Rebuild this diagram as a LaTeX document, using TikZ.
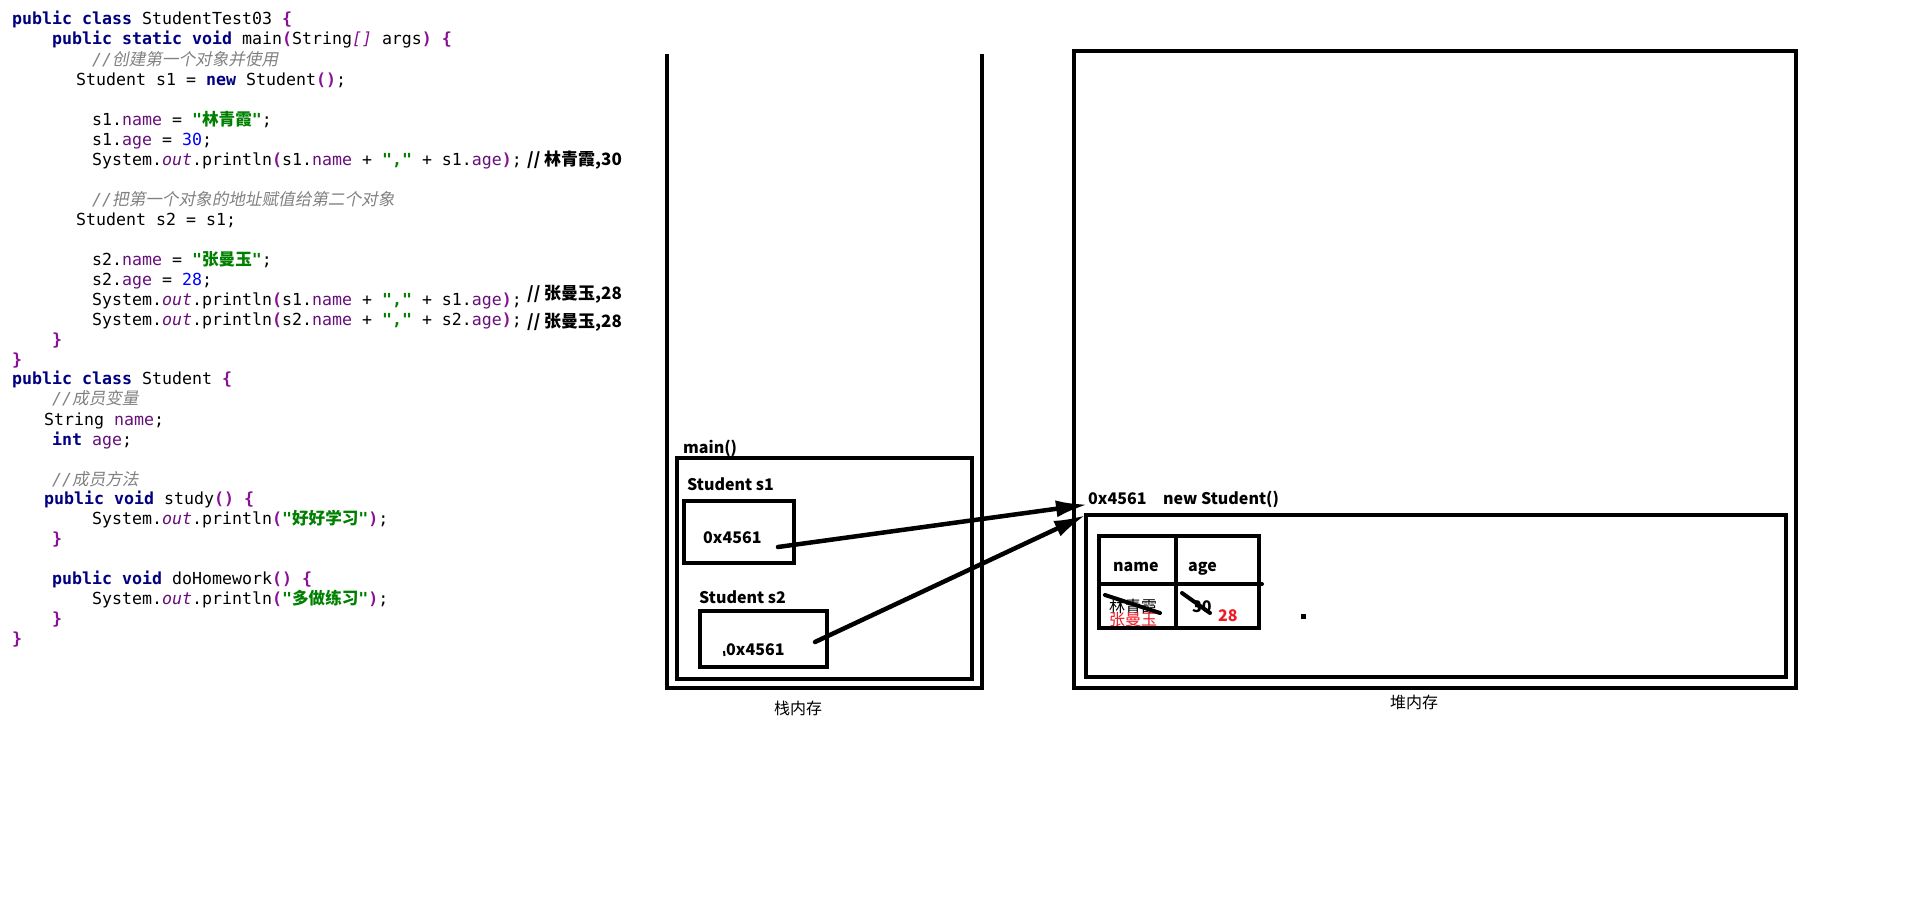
\documentclass[tikz,border=0pt]{standalone}
\usepackage{fontspec}
\usetikzlibrary{arrows.meta}
\setmainfont{Noto Sans CJK SC}
\newfontfamily\codefont{DejaVu Sans Mono}
\newfontfamily\cjk[AutoFakeSlant=0.2]{Noto Sans CJK SC}
\definecolor{kwcol}{HTML}{000080}
\definecolor{brkcol}{HTML}{871094}
\definecolor{fldcol}{HTML}{660E7A}
\definecolor{strcol}{HTML}{008000}
\definecolor{numcol}{HTML}{0000FF}
\definecolor{cmtcol}{HTML}{808080}
\definecolor{paintred}{HTML}{ED1C24}
\newcommand{\kw}[1]{{\color{kwcol}\bfseries #1}}
\newcommand{\brk}[1]{{\color{brkcol}\bfseries #1}}
\newcommand{\brki}[1]{{\color{brkcol}\itshape #1}}
\newcommand{\fld}[1]{{\color{fldcol}#1}}
\newcommand{\sfld}[1]{{\color{fldcol}\itshape #1}}
\newcommand{\strg}[1]{{\color{strcol}\bfseries #1}}
\newcommand{\numc}[1]{{\color{numcol}#1}}
\newcommand{\cmt}[1]{{\color{cmtcol}\itshape #1}}
\newcommand{\zh}[1]{{\cjk #1}}
\begin{document}
\begin{tikzpicture}[x=1bp,y=-1bp,line join=miter,
  code/.style={anchor=base west,inner sep=0pt,font=\codefont\fontsize{16.6bp}{20bp}\selectfont},
  note/.style={anchor=base west,inner sep=0pt,font=\fontsize{17bp}{20bp}\selectfont\bfseries},
  lbl/.style={anchor=base west,inner sep=0pt,font=\fontsize{16bp}{20bp}\selectfont\bfseries},
  memlbl/.style={anchor=base,inner sep=0pt,font=\fontsize{16bp}{20bp}\selectfont},
  box/.style={draw,line width=4bp,outer sep=0pt,inner sep=0pt},
  ref/.style={-{Latex[length=32bp,width=17bp]},line width=4.5bp,line cap=round},
  strike/.style={line width=4bp,line cap=round}]
  \useasboundingbox (0,0) rectangle (1914,916);
%%
  % Code: class StudentTest03
  \node[code] (c1) at (12,24) {\kw{public class} StudentTest03 \brk{\{}};
  \node[code] (c2) at (52,44) {\kw{public static void} main\brk{(}String\brki{[]} args\brk{)} \brk{\{}};
  \node[code] (c3) at (92,65) {\cmt{//\zh{创建第一个对象并使用}}};
  \node[code] (c4) at (76,85) {Student s1 = \kw{new} Student\brk{()};};
  \node[code] (c6) at (92,125) {s1.\fld{name} = \strg{"\zh{林青霞}"};};
  \node[code] (c7) at (92,145) {s1.\fld{age} = \numc{30};};
  \node[code] (c8) at (92,165) {System.\sfld{out}.println\brk{(}s1.\fld{name} + \strg{","} + s1.\fld{age}\brk{)};};
  \node[code] (c10) at (92,205) {\cmt{//\zh{把第一个对象的地址赋值给第二个对象}}};
  \node[code] (c11) at (76,225) {Student s2 = s1;};
  \node[code] (c13) at (92,265) {s2.\fld{name} = \strg{"\zh{张曼玉}"};};
  \node[code] (c14) at (92,285) {s2.\fld{age} = \numc{28};};
  \node[code] (c15) at (92,305) {System.\sfld{out}.println\brk{(}s1.\fld{name} + \strg{","} + s1.\fld{age}\brk{)};};
  \node[code] (c16) at (92,325) {System.\sfld{out}.println\brk{(}s2.\fld{name} + \strg{","} + s2.\fld{age}\brk{)};};
  \node[code] (c17) at (52,345) {\brk{\}}};
  \node[code] (c18) at (12,365) {\brk{\}}};
  % Code: printed results
  \node[note] (out1) at (527,165) {// 林青霞,30};
  \node[note] (out2) at (527,299) {// 张曼玉,28};
  \node[note] (out3) at (527,327) {// 张曼玉,28};
  % Code: class Student
  \node[code] (c19) at (12,384) {\kw{public class} Student \brk{\{}};
  \node[code] (c20) at (52,404) {\cmt{//\zh{成员变量}}};
  \node[code] (c21) at (44,425) {String \fld{name};};
  \node[code] (c22) at (52,445) {\kw{int} \fld{age};};
  \node[code] (c24) at (52,485) {\cmt{//\zh{成员方法}}};
  \node[code] (c25) at (44,504) {\kw{public void} study\brk{()} \brk{\{}};
  \node[code] (c26) at (92,524) {System.\sfld{out}.println\brk{(}\strg{"\zh{好好学习}"}\brk{)};};
  \node[code] (c27) at (52,544) {\brk{\}}};
  \node[code] (c29) at (52,584) {\kw{public void} doHomework\brk{()} \brk{\{}};
  \node[code] (c30) at (92,604) {System.\sfld{out}.println\brk{(}\strg{"\zh{多做练习}"}\brk{)};};
  \node[code] (c31) at (52,624) {\brk{\}}};
  \node[code] (c32) at (12,644) {\brk{\}}};
%%
  % Stack memory
  \draw[line width=4bp] (667,54) -- (667,688) -- (982,688) -- (982,54);
  \node[memlbl] (stacklbl) at (798,714) {栈内存};
  \node[lbl] (mainlbl) at (683,453) {main()};
  \node[box,minimum width=295bp,minimum height=221bp] (mainframe) at (824.5,568.5) {};
  \node[lbl] (s1lbl) at (687,490) {Student s1};
  \node[box,minimum width=110bp,minimum height=62bp] (s1box) at (739,532) {};
  \node[lbl] (s1val) at (703,543) {0x4561};
  \node[lbl] (s2lbl) at (699,603) {Student s2};
  \node[box,minimum width=127bp,minimum height=56bp] (s2box) at (763.5,639) {};
  \node[lbl] (s2val) at (726,655) {0x4561};
  \draw[line width=2bp] (724,651) -- (724.5,656);
  \coordinate (s1out) at (778,547);
  \coordinate (s2out) at (815,642);
%%
  % Heap memory
  \node[box,minimum width=722bp,minimum height=637bp] (heap) at (1435,369.5) {};
  \node[memlbl] (heaplbl) at (1414,708) {堆内存};
  \node[lbl] (heapaddr) at (1088,504) {0x4561};
  \node[lbl] (heapnew) at (1163,504) {new Student()};
  \node[box,minimum width=700bp,minimum height=162bp] (heapobj) at (1436,596) {};
  % Object fields
  \node[box,minimum width=160bp,minimum height=92bp] (fields) at (1179,582) {};
  \draw[line width=4bp] (1176,536) -- (1176,628);
  \draw[line width=4bp,line cap=round] (1099,584) -- (1262,584);
  \node[lbl] (namelbl) at (1113,571) {name};
  \node[lbl] (agelbl) at (1188,571) {age};
  \node[lbl,font=\fontsize{16bp}{20bp}\selectfont] (oldname) at (1109,612) {林青霞};
  \node[lbl,text=paintred,font=\fontsize{16bp}{20bp}\selectfont] (newname) at (1109,625) {张曼玉};
  \node[lbl] (oldage) at (1192,612) {30};
  \node[lbl,text=paintred] (newage) at (1218,621) {28};
  \draw[strike] (1105,595) -- (1160,613);
  \draw[strike] (1182,593) -- (1210,613);
  \fill (1301,614) rectangle (1306,619);
%%
  % References
  \draw[ref] (s1out) -- (heapaddr.south west);
  \draw[ref] (s2out) -- (heapobj.north west);
%
\end{tikzpicture}
\end{document}
